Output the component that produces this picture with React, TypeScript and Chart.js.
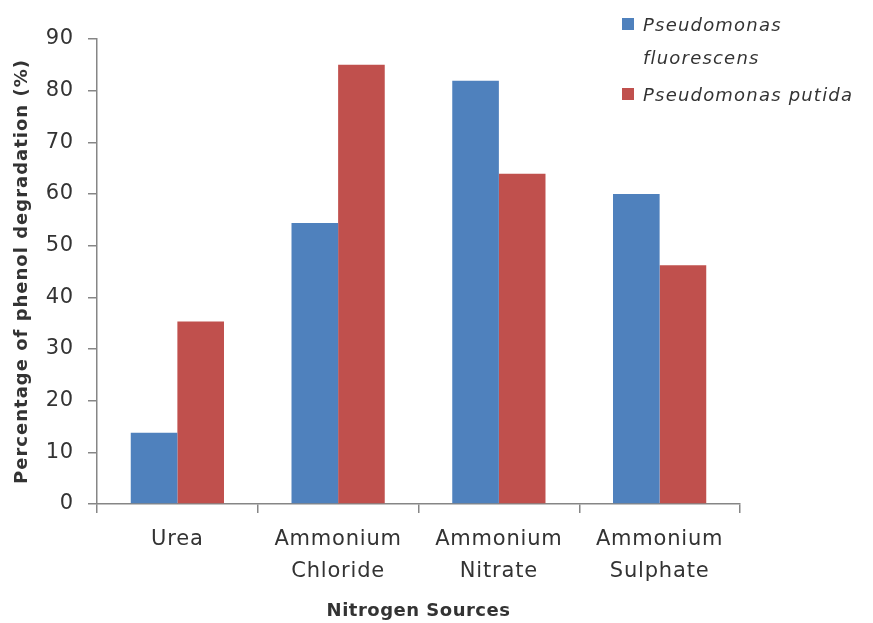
import React, { useEffect, useRef } from "react";
import { Chart, registerables } from "chart.js";

Chart.register(...registerables);

// Nitrogen sources tested
const categories: string[][] = [
  ["Urea"],
  ["Ammonium", "Chloride"],
  ["Ammonium", "Nitrate"],
  ["Ammonium", "Sulphate"],
];

// Phenol degradation (%) per strain
const fluorescensValues = [13.8, 54.4, 81.9, 60.0];
const putidaValues = [35.3, 85.0, 63.9, 46.2];

const seriesNames = [["Pseudomonas", "fluorescens"], ["Pseudomonas putida"]];
const seriesColors = ["#4F81BD", "#C0504D"];

const yTicks = [0, 10, 20, 30, 40, 50, 60, 70, 80, 90];

const yTitle = "Percentage of phenol degradation (%)";
const xTitle = "Nitrogen Sources";

const FONT = "'DejaVu Sans', sans-serif";
const TEXT = "#333333";
const AXIS = "#868686";

const spacingPlugin = {
  id: "letterSpacing",
  beforeDraw(chart: any) {
    chart.ctx.letterSpacing = "0.8px";
  },
};

const annotationsPlugin = {
  id: "annotations",
  afterDraw(chart: any) {
    const { ctx, chartArea } = chart;
    ctx.save();
    ctx.fillStyle = TEXT;

    // y-axis title
    ctx.save();
    ctx.font = `bold 18px ${FONT}`;
    ctx.letterSpacing = "1px";
    ctx.textAlign = "center";
    ctx.textBaseline = "middle";
    ctx.translate(22, (chartArea.top + chartArea.bottom) / 2);
    ctx.rotate(-Math.PI / 2);
    ctx.fillText(yTitle, 0, 0);
    ctx.restore();

    // x-axis title
    ctx.save();
    ctx.font = `bold 18px ${FONT}`;
    ctx.letterSpacing = "0.5px";
    ctx.textAlign = "center";
    ctx.textBaseline = "middle";
    ctx.fillText(xTitle, (chartArea.left + chartArea.right) / 2, chartArea.bottom + 107);
    ctx.restore();

    // legend
    ctx.save();
    ctx.font = `italic 18px ${FONT}`;
    ctx.letterSpacing = "1.2px";
    ctx.textAlign = "left";
    ctx.textBaseline = "alphabetic";
    const boxX = 622;
    const textX = 643;
    const entries = [
      { box: 18, lines: [31, 64] },
      { box: 88, lines: [101] },
    ];
    chart.data.datasets.forEach((ds: any, i: number) => {
      const e = entries[i];
      ctx.fillStyle = ds.backgroundColor;
      ctx.fillRect(boxX, e.box, 12, 12);
      ctx.fillStyle = TEXT;
      seriesNames[i].forEach((line, j) => ctx.fillText(line, textX, e.lines[j]));
    });
    ctx.restore();

    ctx.restore();
  },
};

export default function App() {
  const canvasRef = useRef<HTMLCanvasElement | null>(null);

  useEffect(() => {
    if (!canvasRef.current) return;
    const chart = new Chart(canvasRef.current, {
      type: "bar",
      data: {
        labels: categories,
        datasets: [
          {
            label: seriesNames[0].join(" "),
            data: fluorescensValues,
            backgroundColor: seriesColors[0],
            borderWidth: 0,
            categoryPercentage: 0.58,
            barPercentage: 1,
          },
          {
            label: seriesNames[1].join(" "),
            data: putidaValues,
            backgroundColor: seriesColors[1],
            borderWidth: 0,
            categoryPercentage: 0.58,
            barPercentage: 1,
          },
        ],
      },
      options: {
        responsive: false,
        animation: false,
        devicePixelRatio: 1,
        layout: { padding: { left: 0, top: 39, right: 133, bottom: 0 } },
        plugins: {
          legend: { display: false },
          tooltip: { enabled: false },
        },
        scales: {
          x: {
            grid: {
              offset: true,
              drawOnChartArea: false,
              drawTicks: true,
              tickLength: 9,
              color: AXIS,
              lineWidth: 1.5,
            },
            border: { color: AXIS, width: 1.5 },
            ticks: {
              color: TEXT,
              font: { family: FONT, size: 21, lineHeight: 1.5 },
              padding: 11,
              maxRotation: 0,
              autoSkip: false,
            },
            afterFit(scale: any) {
              scale.height = 119;
            },
          },
          y: {
            min: 0,
            max: 90,
            afterBuildTicks(scale: any) {
              scale.ticks = yTicks.map((v) => ({ value: v }));
            },
            grid: {
              drawOnChartArea: false,
              drawTicks: true,
              tickLength: 9,
              color: AXIS,
              lineWidth: 1.5,
            },
            border: { color: AXIS, width: 1.5 },
            ticks: {
              color: TEXT,
              font: { family: FONT, size: 21 },
              padding: 14,
            },
            afterFit(scale: any) {
              scale.width = 97;
            },
          },
        },
      },
      plugins: [spacingPlugin, annotationsPlugin],
    });
    return () => chart.destroy();
  }, []);

  return (
    <div style={{ position: "fixed", left: 0, top: 0, width: 873, height: 623, background: "#fff" }}>
      <canvas ref={canvasRef} width={873} height={623} />
    </div>
  );
}
